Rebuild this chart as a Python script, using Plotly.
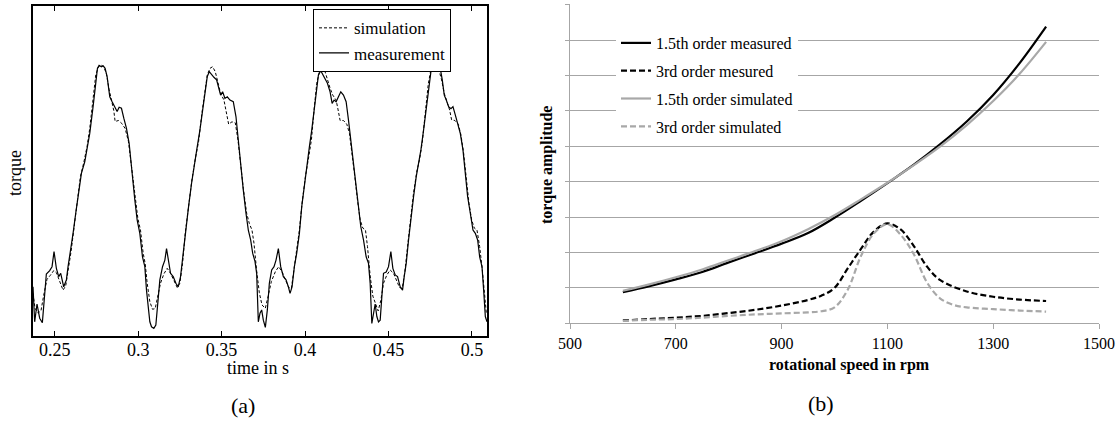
import plotly.graph_objects as go

# ---------------- panel (a): torque vs time ----------------
t_meas = [0.2370, 0.2380, 0.2394, 0.2410, 0.2426, 0.2436, 0.2450, 0.2470, 0.2484, 0.2496,
          0.2510, 0.2524, 0.2536, 0.2554, 0.2570, 0.2580, 0.2594, 0.2610, 0.2626, 0.2640,
          0.2660, 0.2680, 0.2694, 0.2710, 0.2730, 0.2746, 0.2756, 0.2766, 0.2780, 0.2790,
          0.2802, 0.2814, 0.2830, 0.2844, 0.2860, 0.2874, 0.2886, 0.2900, 0.2914, 0.2930,
          0.2946, 0.2962, 0.2980, 0.2994, 0.3010, 0.3026, 0.3040, 0.3050, 0.3060, 0.3070,
          0.3080, 0.3094, 0.3106, 0.3116, 0.3130, 0.3146, 0.3160, 0.3170, 0.3182, 0.3194,
          0.3210, 0.3226, 0.3240, 0.3254, 0.3270, 0.3286, 0.3302, 0.3320, 0.3336, 0.3354,
          0.3370, 0.3386, 0.3400, 0.3414, 0.3426, 0.3440, 0.3454, 0.3470, 0.3482, 0.3494,
          0.3506, 0.3520, 0.3534, 0.3550, 0.3570, 0.3586, 0.3600, 0.3614, 0.3630, 0.3646,
          0.3660, 0.3674, 0.3686, 0.3700, 0.3710, 0.3720, 0.3730, 0.3740, 0.3750, 0.3762,
          0.3774, 0.3786, 0.3800, 0.3814, 0.3826, 0.3840, 0.3854, 0.3870, 0.3886, 0.3900,
          0.3910, 0.3922, 0.3936, 0.3950, 0.3966, 0.3980, 0.3994, 0.4010, 0.4026, 0.4040,
          0.4054, 0.4066, 0.4080, 0.4094, 0.4106, 0.4120, 0.4134, 0.4150, 0.4162, 0.4174,
          0.4186, 0.4200, 0.4214, 0.4230, 0.4246, 0.4260, 0.4274, 0.4290, 0.4306, 0.4320,
          0.4334, 0.4350, 0.4366, 0.4380, 0.4390, 0.4400, 0.4410, 0.4420, 0.4430, 0.4440,
          0.4450, 0.4460, 0.4470, 0.4486, 0.4500, 0.4514, 0.4526, 0.4540, 0.4554, 0.4570,
          0.4584, 0.4594, 0.4606, 0.4620, 0.4634, 0.4650, 0.4666, 0.4680, 0.4694, 0.4710,
          0.4726, 0.4740, 0.4754, 0.4766, 0.4780, 0.4794, 0.4810, 0.4822, 0.4834, 0.4846,
          0.4860, 0.4874, 0.4886, 0.4900, 0.4914, 0.4930, 0.4946, 0.4960, 0.4974, 0.4990,
          0.5006, 0.5020, 0.5034, 0.5046, 0.5060, 0.5070, 0.5080, 0.5090]
y_meas = [14.9, 4.3, 9.7, 5.4, 4.0, 10.9, 18.8, 19.8, 21.0, 25.6,
          20.5, 18.0, 19.0, 14.9, 17.0, 21.0, 25.1, 31.1, 37.2, 42.2,
          49.3, 52.8, 56.4, 61.4, 69.5, 76.6, 81.1, 82.0, 81.6, 81.9,
          81.1, 78.6, 72.5, 71.0, 69.5, 68.0, 69.3, 69.0, 66.0, 62.9,
          58.4, 49.3, 41.2, 35.2, 31.1, 24.0, 21.0, 13.9, 7.9, 4.3,
          2.8, 2.3, 3.3, 9.9, 17.0, 21.0, 23.0, 26.5, 23.0, 19.0,
          18.0, 16.0, 14.9, 18.0, 25.1, 33.1, 39.2, 46.3, 52.3, 57.4,
          62.4, 68.5, 73.5, 78.6, 80.1, 79.1, 78.4, 77.6, 75.0, 73.0,
          74.0, 72.0, 72.5, 71.5, 71.0, 66.5, 59.4, 51.3, 44.2, 37.2,
          32.1, 29.1, 25.1, 22.6, 19.0, 4.3, 6.9, 7.9, 4.8, 2.6,
          7.9, 16.0, 20.0, 21.0, 23.0, 26.5, 21.0, 18.0, 17.0, 14.9,
          12.9, 14.9, 21.0, 25.1, 31.1, 39.2, 45.3, 52.3, 57.4, 62.4,
          68.5, 74.0, 79.1, 80.4, 79.1, 78.1, 76.6, 74.0, 70.5, 71.5,
          71.0, 72.5, 74.0, 73.0, 71.0, 65.5, 59.4, 52.3, 45.3, 39.2,
          33.1, 29.1, 24.0, 22.0, 16.0, 3.8, 7.4, 9.7, 5.9, 4.3,
          4.8, 13.9, 19.0, 19.4, 21.0, 25.6, 20.5, 18.5, 18.0, 14.9,
          13.9, 18.0, 22.0, 29.1, 36.2, 42.2, 48.3, 52.3, 56.4, 62.4,
          69.5, 75.6, 80.1, 81.8, 81.6, 81.8, 81.1, 77.6, 73.0, 71.5,
          69.5, 68.9, 69.5, 67.0, 64.4, 61.4, 56.4, 49.3, 42.2, 37.2,
          32.1, 31.1, 29.1, 24.0, 21.0, 13.9, 5.9, 4.3]

t_sim = [0.2370, 0.2382, 0.2400, 0.2418, 0.2436, 0.2454, 0.2474, 0.2494, 0.2510, 0.2530,
         0.2550, 0.2566, 0.2582, 0.2598, 0.2614, 0.2634, 0.2654, 0.2674, 0.2694, 0.2710,
         0.2730, 0.2746, 0.2762, 0.2778, 0.2794, 0.2810, 0.2826, 0.2842, 0.2854, 0.2862,
         0.2882, 0.2902, 0.2922, 0.2942, 0.2962, 0.2982, 0.2998, 0.3014, 0.3030, 0.3042,
         0.3054, 0.3070, 0.3086, 0.3102, 0.3118, 0.3134, 0.3154, 0.3174, 0.3194, 0.3214,
         0.3234, 0.3250, 0.3266, 0.3282, 0.3302, 0.3322, 0.3342, 0.3362, 0.3382, 0.3398,
         0.3414, 0.3430, 0.3446, 0.3462, 0.3478, 0.3494, 0.3514, 0.3530, 0.3542, 0.3562,
         0.3582, 0.3598, 0.3614, 0.3630, 0.3650, 0.3666, 0.3682, 0.3694, 0.3710, 0.3726,
         0.3742, 0.3762, 0.3778, 0.3798, 0.3822, 0.3842, 0.3862, 0.3882, 0.3902, 0.3918,
         0.3934, 0.3950, 0.3966, 0.3982, 0.4002, 0.4022, 0.4038, 0.4054, 0.4070, 0.4086,
         0.4102, 0.4118, 0.4134, 0.4150, 0.4166, 0.4186, 0.4198, 0.4210, 0.4230, 0.4250,
         0.4266, 0.4282, 0.4298, 0.4314, 0.4330, 0.4346, 0.4362, 0.4374, 0.4390, 0.4406,
         0.4422, 0.4438, 0.4454, 0.4470, 0.4490, 0.4510, 0.4530, 0.4550, 0.4566, 0.4582,
         0.4598, 0.4614, 0.4630, 0.4650, 0.4670, 0.4686, 0.4702, 0.4722, 0.4738, 0.4754,
         0.4770, 0.4786, 0.4802, 0.4818, 0.4834, 0.4850, 0.4866, 0.4878, 0.4898, 0.4918,
         0.4934, 0.4950, 0.4966, 0.4982, 0.4998, 0.5014, 0.5030, 0.5046, 0.5062, 0.5074,
         0.5086]
y_sim = [12.9, 8.4, 6.9, 7.7, 12.9, 17.2, 18.4, 19.8, 19.2, 16.5,
         13.9, 15.2, 20.0, 25.6, 32.1, 40.2, 48.3, 52.5, 57.4, 62.9,
         72.0, 79.1, 81.6, 82.1, 81.6, 79.4, 74.7, 71.5, 68.3, 65.0,
         65.3, 64.4, 62.9, 58.9, 50.3, 41.7, 35.7, 32.1, 25.1, 22.0,
         16.0, 10.4, 8.1, 8.3, 11.9, 16.0, 18.8, 20.5, 19.0, 17.0,
         14.7, 16.0, 22.0, 31.1, 39.7, 47.3, 53.6, 58.9, 67.5, 73.0,
         79.1, 81.1, 81.6, 80.1, 77.0, 73.5, 71.5, 67.5, 64.2, 64.9,
         64.6, 59.4, 51.8, 44.7, 37.2, 34.1, 32.1, 28.1, 19.7, 13.1,
         9.4, 8.4, 11.9, 16.5, 19.5, 21.0, 19.5, 17.0, 14.7, 14.4,
         20.0, 25.1, 32.1, 40.2, 48.3, 54.3, 59.4, 68.5, 76.6, 80.1,
         81.8, 80.4, 77.6, 75.1, 73.0, 71.5, 68.5, 65.3, 65.3, 64.2,
         61.4, 55.4, 48.3, 41.2, 35.2, 32.7, 32.1, 27.1, 18.2, 12.1,
         9.6, 7.6, 10.8, 16.0, 18.5, 20.0, 19.0, 16.5, 14.7, 14.4,
         19.5, 27.1, 35.2, 43.4, 50.0, 53.5, 58.6, 68.7, 76.3, 80.8,
         82.0, 81.8, 80.6, 77.6, 73.5, 71.0, 68.5, 65.5, 65.3, 64.2,
         60.9, 55.4, 47.3, 40.2, 35.2, 32.7, 32.1, 27.1, 20.0, 12.9,
         6.9]

time_ticks = [0.25, 0.3, 0.35, 0.4, 0.45, 0.5]
time_tick_labels = ["0.25", "0.3", "0.35", "0.4", "0.45", "0.5"]

# ---------------- panel (b): torque amplitude vs speed ----------------
rpm_15_meas = [600, 650, 700, 750, 800, 850, 900, 950, 1000, 1050, 1100, 1150, 1200, 1250, 1300, 1350, 1400]
amp_15_meas = [0.88, 1.05, 1.24, 1.45, 1.72, 1.98, 2.25, 2.55, 2.98, 3.46, 3.96, 4.48, 5.06, 5.70, 6.45, 7.35, 8.38]

rpm_15_sim = [600, 650, 700, 750, 800, 850, 900, 950, 1000, 1050, 1100, 1150, 1200, 1250, 1300, 1350, 1400]
amp_15_sim = [0.92, 1.10, 1.30, 1.52, 1.78, 2.04, 2.32, 2.66, 3.05, 3.50, 3.97, 4.47, 5.00, 5.60, 6.28, 7.05, 7.95]

rpm_3_meas = [600, 650, 700, 750, 800, 850, 900, 950, 975, 1000, 1025, 1050, 1075, 1100, 1125, 1150, 1175, 1200, 1250, 1300, 1350, 1400]
amp_3_meas = [0.08, 0.12, 0.16, 0.21, 0.29, 0.38, 0.50, 0.66, 0.78, 1.00, 1.55, 2.10, 2.60, 2.82, 2.65, 2.18, 1.60, 1.22, 0.90, 0.75, 0.67, 0.63]

rpm_3_sim = [600, 650, 700, 750, 800, 850, 900, 950, 975, 1000, 1025, 1050, 1075, 1100, 1125, 1150, 1175, 1200, 1225, 1250, 1300, 1350, 1400]
amp_3_sim = [0.07, 0.10, 0.12, 0.16, 0.21, 0.25, 0.28, 0.31, 0.34, 0.45, 0.95, 1.90, 2.55, 2.80, 2.50, 1.95, 1.15, 0.70, 0.52, 0.45, 0.40, 0.36, 0.33]

rpm_ticks = [500, 700, 900, 1100, 1300, 1500]
amp_grid = [0, 1, 2, 3, 4, 5, 6, 7, 8, 9]

SERIF = "Liberation Serif"
W, H = 1119, 421
GRAY = "#a8a8a8"
GRID = "#a6a6a6"

fig = go.Figure()

fig.add_trace(go.Scatter(x=t_sim, y=y_sim, mode="lines", name="simulation",
                         line=dict(color="black", width=1, dash="3px,2px"),
                         xaxis="x", yaxis="y", legend="legend"))
fig.add_trace(go.Scatter(x=t_meas, y=y_meas, mode="lines", name="measurement",
                         line=dict(color="black", width=1.2),
                         xaxis="x", yaxis="y", legend="legend"))

fig.add_trace(go.Scatter(x=rpm_15_meas, y=amp_15_meas, mode="lines", name="1.5th order measured",
                         line=dict(color="black", width=2.2, shape="spline"),
                         xaxis="x2", yaxis="y2", legend="legend2", legendgroup="g1"))
fig.add_trace(go.Scatter(x=rpm_3_meas, y=amp_3_meas, mode="lines", name="3rd order mesured",
                         line=dict(color="black", width=2.2, dash="6px,3px", shape="spline"),
                         xaxis="x2", yaxis="y2", legend="legend2", legendgroup="g2"))
fig.add_trace(go.Scatter(x=rpm_15_sim, y=amp_15_sim, mode="lines", name="1.5th order simulated",
                         line=dict(color=GRAY, width=2.2, shape="spline"),
                         xaxis="x2", yaxis="y2", legend="legend2", legendgroup="g3"))
fig.add_trace(go.Scatter(x=rpm_3_sim, y=amp_3_sim, mode="lines", name="3rd order simulated",
                         line=dict(color=GRAY, width=2.2, dash="6px,3px", shape="spline"),
                         xaxis="x2", yaxis="y2", legend="legend2", legendgroup="g4"))

def fx(px):
    return px / W

def fy(py):
    return 1 - py / H

def label(text, px, py, size, angle=0):
    return dict(text=text, x=fx(px), y=fy(py), xref="paper", yref="paper",
                xanchor="center", yanchor="middle", showarrow=False, textangle=angle,
                font=dict(family=SERIF, size=size, color="black"))

fig.update_layout(
    width=W, height=H,
    margin=dict(l=0, r=0, t=0, b=0, autoexpand=False),
    paper_bgcolor="white", plot_bgcolor="white",
    font=dict(family=SERIF, color="black"),
    showlegend=True,
    xaxis=dict(domain=[fx(33), fx(487)], range=[0.237, 0.509], automargin=False,
               tickvals=time_ticks, ticktext=time_tick_labels,
               ticks="inside", ticklen=5, tickwidth=1, tickcolor="black",
               ticklabelstandoff=-3,
               showline=True, linecolor="black", linewidth=1.5, mirror="ticks",
               showgrid=False, zeroline=False,
               tickfont=dict(family=SERIF, size=18, color="black")),
    yaxis=dict(domain=[fy(336), fy(6)], range=[0, 100], automargin=False,
               showticklabels=False, ticks="",
               showline=True, linecolor="black", linewidth=1.5, mirror=True,
               showgrid=False, zeroline=False),
    xaxis2=dict(domain=[fx(570), fx(1099)], range=[500, 1500], anchor="y2", automargin=False,
                tickvals=rpm_ticks, ticks="outside", ticklen=5, tickcolor=GRID, tickwidth=1,
                showline=True, linecolor=GRID, linewidth=1.2,
                showgrid=False, zeroline=False,
                tickfont=dict(family=SERIF, size=16, color="black")),
    yaxis2=dict(domain=[fy(323.3), fy(4)], range=[0, 9.02], anchor="x2", automargin=False,
                tickvals=amp_grid, showticklabels=False,
                ticks="outside", ticklen=4, tickcolor=GRID, tickwidth=1,
                showline=True, linecolor=GRID, linewidth=1.2,
                showgrid=True, gridcolor=GRID, gridwidth=1.3, zeroline=False),
    legend=dict(x=fx(313), y=fy(9.3), xanchor="left", yanchor="top",
                bgcolor="white", bordercolor="black", borderwidth=1,
                font=dict(family=SERIF, size=17, color="black"),
                itemwidth=30, tracegroupgap=0),
    legend2=dict(x=fx(616), y=fy(26), xanchor="left", yanchor="top",
                 bgcolor="white", borderwidth=0,
                 font=dict(family=SERIF, size=16, color="black"),
                 itemwidth=30, tracegroupgap=4),
    annotations=[
        label("time in s", 258, 368, 18),
        label("torque", 15, 173, 18, -90),
        label("(a)", 243, 405, 22),
        label("<b>rotational speed in rpm</b>", 849, 365, 16),
        label("<b>torque amplitude</b>", 547, 165, 16, -90),
        label("(b)", 821, 403, 22),
    ],
)

fig.write_html("out.html",
               config={"displayModeBar": False},
               post_script="document.body.style.margin='0';document.body.style.padding='0';")
